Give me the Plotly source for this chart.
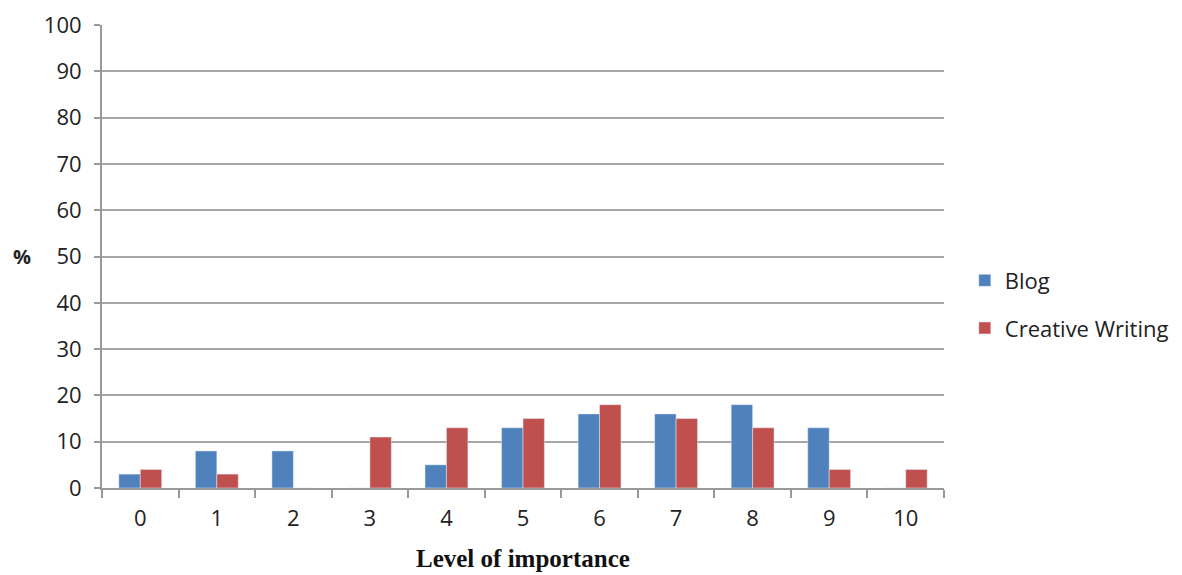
import plotly.graph_objects as go

# Level of importance categories and percentages per group
levels = ["0", "1", "2", "3", "4", "5", "6", "7", "8", "9", "10"]
blog = [3, 8, 8, 0, 5, 13, 16, 16, 18, 13, 0]
creative_writing = [4, 3, 0, 11, 13, 15, 18, 15, 13, 4, 4]

fig = go.Figure()
fig.add_trace(go.Bar(x=levels, y=blog, name="Blog", marker_color="#4F81BD", legendgroup="a"))
fig.add_trace(go.Bar(x=levels, y=creative_writing, name="Creative Writing",
                     marker_color="#C0504D", legendgroup="b"))

# page body has an 8px margin, so the figure is sized a bit smaller
fig.update_layout(
    width=1174, height=567,
    margin=dict(l=94, r=238, t=17, b=87, autoexpand=False),
    barmode="group", bargap=0.44, bargroupgap=0,
    plot_bgcolor="white", paper_bgcolor="white",
    font=dict(family="Open Sans", size=22, color="#222"),
    legend=dict(xref="container", yref="container", x=0.815, y=0.477,
                yanchor="middle", xanchor="left",
                font=dict(size=22), tracegroupgap=16, itemwidth=30),
)

fig.update_xaxes(
    type="category", showline=True, linecolor="#999", linewidth=2,
    ticks="outside", tickson="boundaries", ticklen=8, tickcolor="#999", tickwidth=2,
    ticklabelstandoff=10, showgrid=False, automargin=False,
)
fig.update_yaxes(
    range=[0, 100], dtick=10, showline=True, linecolor="#999", linewidth=2,
    ticks="outside", ticklen=6, tickcolor="#999", tickwidth=2,
    showgrid=True, gridcolor="#A6A6A6", gridwidth=2, zeroline=False,
    ticklabelstandoff=8, automargin=False,
)

fig.add_annotation(text="<b>%</b>", xref="paper", yref="paper", x=-0.095, y=0.5,
                   xanchor="center", showarrow=False, font=dict(size=20))
fig.add_annotation(text="<b>Level of importance</b>", xref="paper", yref="paper",
                   x=0.5, y=-0.152, xanchor="center", yanchor="middle", showarrow=False,
                   font=dict(family="Liberation Serif", size=25, color="#111"))

fig.write_html("out.html")
